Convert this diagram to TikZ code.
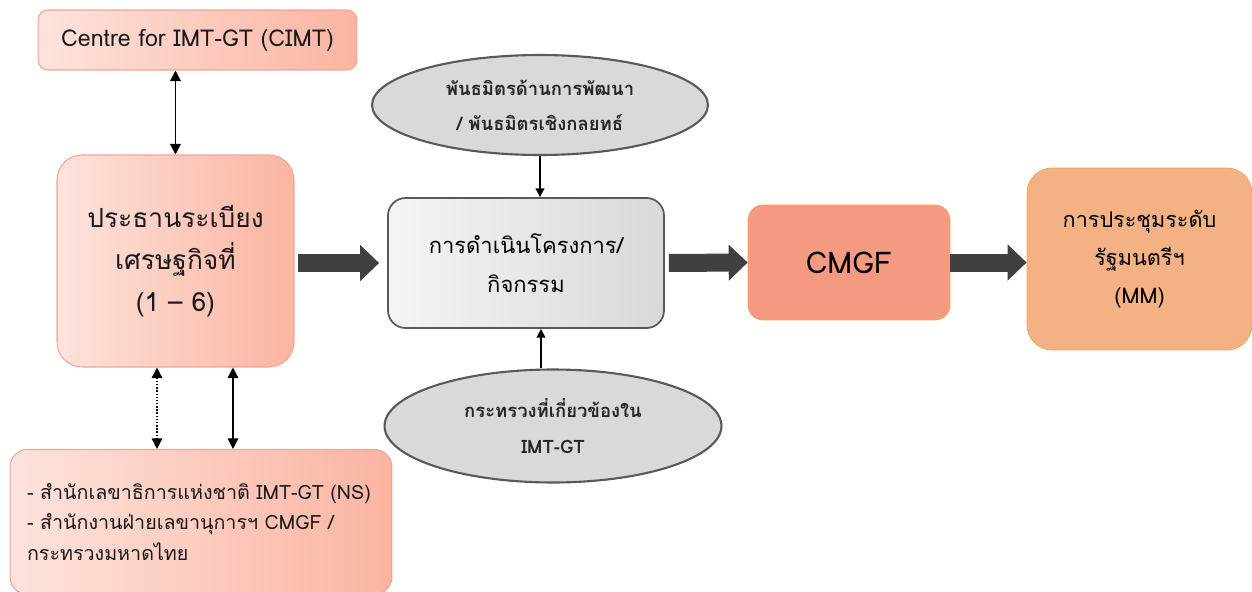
\documentclass[tikz,border=0pt]{standalone}
\usepackage{fontspec}
\setmainfont[Script=Thai]{Loma}
\usetikzlibrary{arrows.meta,shapes.geometric}
\definecolor{pinkL}{HTML}{FDE3DC}
\definecolor{pinkR}{HTML}{FBB4A2}
\definecolor{pinkLine}{HTML}{F4A394}
\definecolor{grayFill}{HTML}{D9D9D9}
\definecolor{grayLine}{HTML}{595959}
\definecolor{arrowGray}{HTML}{404040}
\definecolor{cmgfFill}{HTML}{F39A80}
\definecolor{mmFill}{HTML}{F4B183}
\definecolor{orangeLine}{HTML}{F7A05A}
\begin{document}
\begin{tikzpicture}[x=0.02cm,y=-0.02cm,
    pinkbox/.style={draw=pinkLine,line width=0.6pt,left color=pinkL,right color=pinkR,
      text=black!90,inner sep=0pt},
    ovalbox/.style={ellipse,draw=grayLine,line width=1.2pt,fill=grayFill,inner sep=0pt,
      align=center,font=\fontsize{10.5}{20}\selectfont\bfseries,text=black!85},
    bigarrow/.style={draw=arrowGray,line width=0.36cm,-{Triangle[length=0.38cm,width=0.7cm]}},
    link/.style={line width=0.8pt,{Triangle[length=6pt,width=6pt]}-{Triangle[length=6pt,width=6pt]}},
    feed/.style={line width=0.8pt,-{Triangle[length=5pt,width=5pt]}}]
  \useasboundingbox (0,0) rectangle (1252,592);

  \node[pinkbox,rounded corners=0.2cm,minimum width=6.38cm,minimum height=1.2cm,
    font=\fontsize{13.2}{16}\selectfont] (cimt) at (197.5,40) {Centre for IMT-GT (CIMT)};
  \node[pinkbox,rounded corners=0.5cm,minimum width=4.74cm,minimum height=4.24cm,
    align=center,font=\fontsize{15}{24}\selectfont] (ecz) at (175.5,261)
    {ประธานระเบียง\\เศรษฐกิจที่\\(1 -- 6)};
  \node[pinkbox,rounded corners=0.35cm,minimum height=2.9cm,text width=6.96cm,
    inner xsep=0.34cm,align=left,font=\fontsize{11.2}{17.5}\selectfont] (ns) at (201,522)
    {- สำนักเลขาธิการแห่งชาติ IMT-GT (NS)\\- สำนักงานฝ่ายเลขานุการฯ CMGF /\\กระทรวงมหาดไทย};

  \node[ovalbox,minimum width=6.72cm,minimum height=2.0cm] (pa) at (540,105)
    {พันธมิตรด้านการพัฒนา\\/ พันธมิตรเชิงกลยทธ์};
  \node[draw=grayLine,line width=1pt,rounded corners=0.35cm,left color=gray!8,right color=gray!30,
    minimum width=5.52cm,minimum height=2.6cm,align=center,
    font=\fontsize{12.5}{22.5}\selectfont] (act) at (526,263) {การดำเนินโครงการ/\\กิจกรรม};
  \node[ovalbox,minimum width=6.74cm,minimum height=2.26cm] (min) at (553,426)
    {กระทรวงที่เกี่ยวข้องใน\\IMT-GT};

  \node[draw=orangeLine,fill=cmgfFill,rounded corners=0.3cm,minimum width=4.04cm,
    minimum height=2.3cm,font=\fontsize{17}{20}\selectfont] (cmgf) at (849,262.5) {CMGF};
  \node[draw=orangeLine,fill=mmFill,rounded corners=0.5cm,minimum width=4.5cm,
    minimum height=3.64cm,align=center,font=\fontsize{12.3}{21.5}\selectfont] (mm) at (1139.5,259)
    {การประชุมระดับ\\รัฐมนตรีฯ\\(MM)};

  \draw[bigarrow,shorten <=0.06cm,shorten >=0.16cm] (ecz.east |- act.west) -- (act.west);
  \draw[bigarrow,shorten <=0.08cm] (act.east) -- (cmgf.west);
  \draw[bigarrow] (cmgf.east) -- (cmgf.east -| mm.west);

  \draw[link] (cimt.south -| ecz.north) -- (ecz.north);
  \coordinate (d1) at ([xshift=-0.37cm]ecz.south);
  \coordinate (d2) at ([xshift=1.15cm]ecz.south);
  \draw[link,densely dotted] (d1) -- (d1 |- ns.north);
  \draw[link] (d2) -- (d2 |- ns.north);
  \draw[feed] (pa.south) -- (pa.south |- act.north);
  \coordinate (m1) at ([xshift=0.3cm]act.south);
  \draw[feed] (m1 |- min.north) -- (m1);
\end{tikzpicture}
\end{document}
